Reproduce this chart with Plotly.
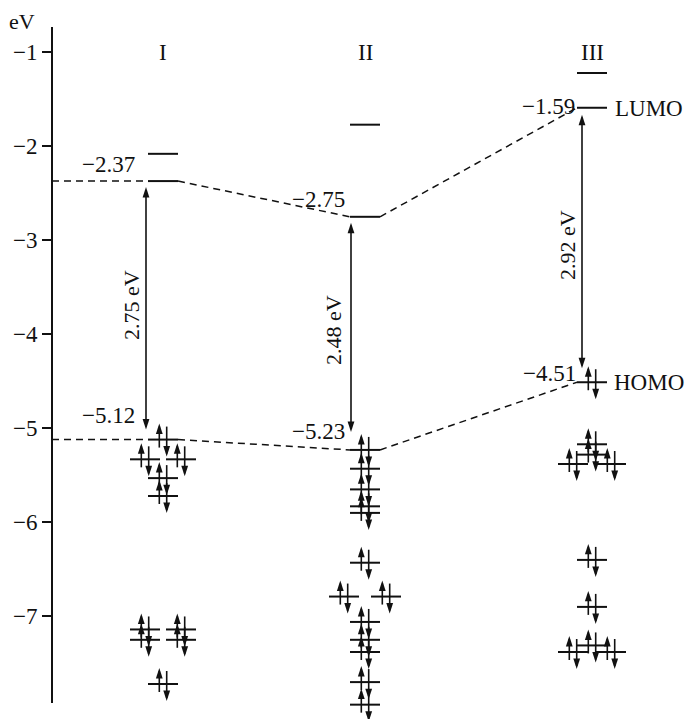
import plotly.graph_objects as go

# ---------------- data ----------------
columns = ["I", "II", "III"]
lumo = [-2.37, -2.75, -1.59]
homo = [-5.12, -5.23, -4.51]
gap = [2.75, 2.48, 2.92]

# unoccupied levels (LUMO+1, LUMO)
empty_levels = [[-2.08, -2.37], [-1.77, -2.75], [-1.22, -1.59]]
# occupied levels in the column centre
occ_center = [
    [-5.12, -5.53, -5.72, -7.72],
    [-5.23, -5.43, -5.65, -5.83, -5.90, -6.43, -7.06, -7.25, -7.38, -7.70, -7.94],
    [-4.51, -5.17, -5.28, -6.40, -6.90, -7.31],
]
# occupied degenerate pairs (drawn left and right of the centre)
occ_side = [[-5.33, -7.14, -7.25], [-6.79], [-5.38, -7.38]]

y_ticks = [-1, -2, -3, -4, -5, -6, -7]

# ---------------- layout constants ----------------
W, H = 687, 719
PX0, PXS = 52.3, 94.0          # pixel row of -1 eV, pixels per eV


def E(py):
    return -1 - (py - PX0) / PXS


def dE(px):
    return px / PXS


col_x = [163, 365, 592]
side_dx = [18, 21, 19]
half_w = 15
axis_x = 52
FONT = "Liberation Serif"
INK = "#111111"

# ---------------- build geometry ----------------
lv_x, lv_y = [], []
sh_x, sh_y = [], []
up_x, up_y, dn_x, dn_y = [], [], [], []


def add_level(xc, e, occupied):
    lv_x.extend([xc - half_w, xc + half_w, None])
    lv_y.extend([e, e, None])
    if occupied:
        xu, xd = xc - 3.7, xc + 3.7
        ut, ub = e + dE(16), e - dE(8)
        dt, db = e + dE(13), e - dE(17)
        sh_x.extend([xu, xu, None, xd, xd, None])
        sh_y.extend([ub, ut - dE(3), None, dt, db + dE(3), None])
        up_x.append(xu); up_y.append(ut)
        dn_x.append(xd); dn_y.append(db)


for i in range(3):
    for e in empty_levels[i]:
        add_level(col_x[i], e, False)
    for e in occ_center[i]:
        add_level(col_x[i], e, True)
    for e in occ_side[i]:
        add_level(col_x[i] - side_dx[i], e, True)
        add_level(col_x[i] + side_dx[i], e, True)

# gap arrows
gap_x = [146, 351, 582]
top_off = [6, 6, 7]
bot_off = [10, 18, 14]
for i in range(3):
    t = lumo[i] - dE(top_off[i])
    b = homo[i] + dE(bot_off[i])
    sh_x.extend([gap_x[i], gap_x[i], None])
    sh_y.extend([t - dE(3), b + dE(3), None])
    up_x.append(gap_x[i]); up_y.append(t)
    dn_x.append(gap_x[i]); dn_y.append(b)

# dashed correlation lines
def dashed(vals):
    xs = [axis_x, col_x[0] - half_w, None]
    ys = [vals[0], vals[0], None]
    for i in range(2):
        xs.extend([col_x[i] + half_w, col_x[i + 1] - half_w, None])
        ys.extend([vals[i], vals[i + 1], None])
    return xs, ys

dl_x, dl_y = dashed(lumo)
dh_x, dh_y = dashed(homo)

fig = go.Figure()
# dummy trace for the visible energy axis (first, so data subplot draws over it)
fig.add_trace(go.Scatter(x=[None], y=[None], yaxis="y2", showlegend=False,
                         hoverinfo="skip"))
fig.add_trace(go.Scatter(x=dl_x + dh_x, y=dl_y + dh_y, mode="lines",
                         line=dict(color=INK, width=1.5, dash="7px,5px"),
                         hoverinfo="skip", showlegend=False))
fig.add_trace(go.Scatter(x=lv_x, y=lv_y, mode="lines",
                         line=dict(color=INK, width=2),
                         hoverinfo="skip", showlegend=False))
fig.add_trace(go.Scatter(x=sh_x, y=sh_y, mode="lines",
                         line=dict(color=INK, width=1.6),
                         hoverinfo="skip", showlegend=False))
fig.add_trace(go.Scatter(x=up_x, y=up_y, mode="markers",
                         marker=dict(symbol="arrow", size=11, angle=0, color=INK,
                                     line=dict(width=0)),
                         hoverinfo="skip", showlegend=False))
fig.add_trace(go.Scatter(x=dn_x, y=dn_y, mode="markers",
                         marker=dict(symbol="arrow", size=11, angle=180, color=INK,
                                     line=dict(width=0)),
                         hoverinfo="skip", showlegend=False))

ann = []


def text(x, py, s, size=23, xanchor="center", angle=0):
    ann.append(dict(x=x, y=E(py), xref="x", yref="y", text=s, showarrow=False,
                    xanchor=xanchor, yanchor="middle", textangle=angle,
                    font=dict(family=FONT, size=size, color=INK)))


def neg(v):
    return "\u2212" + f"{abs(v):.2f}"

text(22, 21, "eV", size=22)
for i, name in enumerate(columns):
    text(col_x[i], 52, name)

text(108, 164, neg(lumo[0]))
text(108, 415, neg(homo[0]))
text(318, 199, neg(lumo[1]))
text(318, 431, neg(homo[1]))
text(577, 106, neg(lumo[2]), xanchor="right")
text(578, 373, neg(homo[2]), xanchor="right")
text(613, 108, "LUMO", xanchor="left")
text(612, 382, "HOMO", xanchor="left")

gap_lbl = [(131, 305), (333, 330), (567, 245)]
for i in range(3):
    text(gap_lbl[i][0], gap_lbl[i][1], f"{gap[i]:.2f} eV", size=22, angle=-90)

fig.update_layout(
    width=W, height=H,
    margin=dict(l=0, r=0, t=0, b=0),
    paper_bgcolor="white", plot_bgcolor="rgba(0,0,0,0)",
    annotations=ann,
    xaxis=dict(range=[0, W], visible=False, fixedrange=True),
    yaxis=dict(range=[E(H), E(0)], visible=False, fixedrange=True),
    yaxis2=dict(
        range=[E(703), E(26.7)],
        domain=[(H - 703) / H, (H - 26.7) / H],
        anchor="free", position=axis_x / W, side="left",
        showline=True, linecolor=INK, linewidth=2,
        ticks="outside", ticklen=9, tickwidth=1.5, tickcolor=INK,
        tickvals=y_ticks, showgrid=False, zeroline=False,
        tickfont=dict(family=FONT, size=23, color=INK),
        fixedrange=True,
    ),
)

fig.write_html("out.html")
